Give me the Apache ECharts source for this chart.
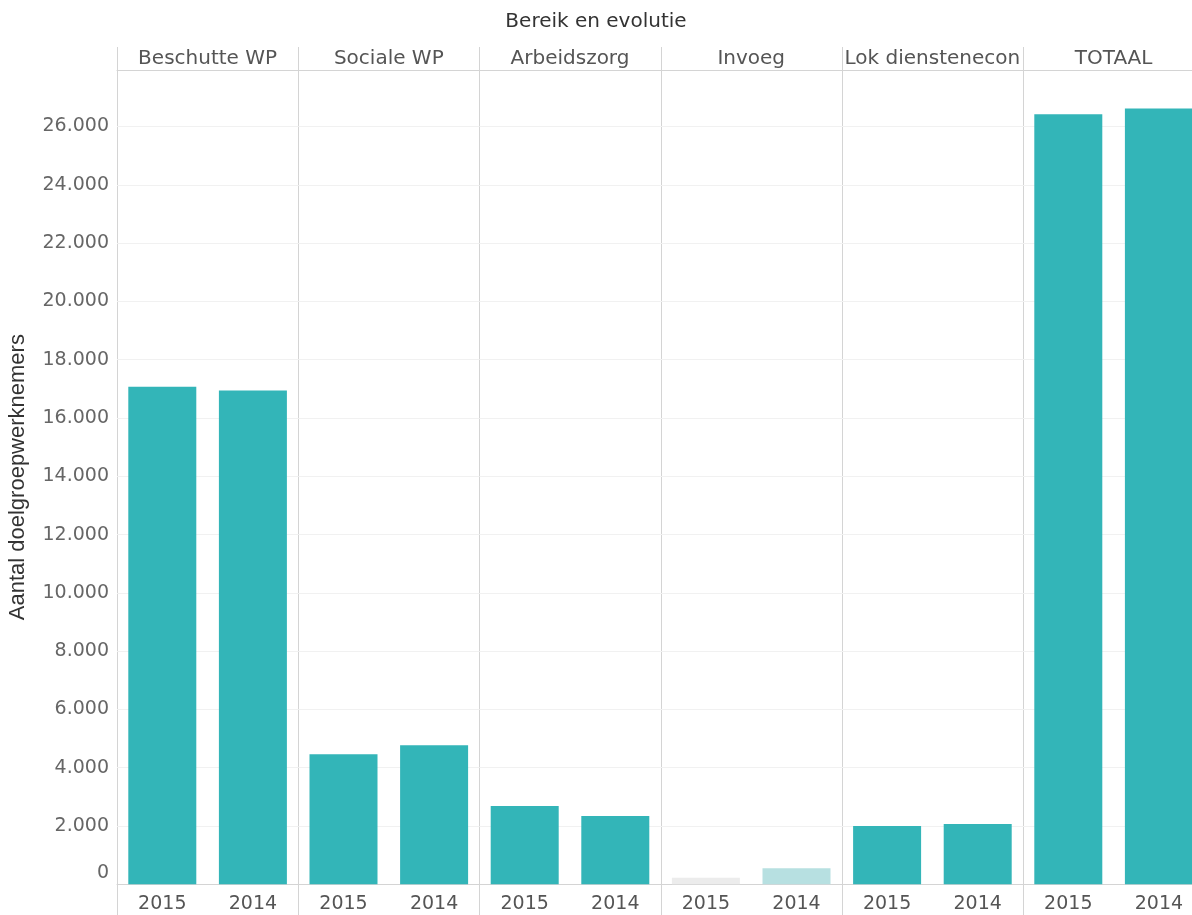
<!DOCTYPE html>
<html>
<head>
<meta charset="utf-8">
<script src="https://cdn.jsdelivr.net/npm/echarts@6/dist/echarts.min.js"></script>
<style>
html,body{margin:0;padding:0;background:#fff;}
#chart{width:1192px;height:915px;}
</style>
</head>
<body>
<div id="chart"></div>
<script>
// ---- data ----
const categories = ['Beschutte WP', 'Sociale WP', 'Arbeidszorg', 'Invoeg', 'Lok dienstenecon', 'TOTAAL'];
const years = ['2015', '2014'];
const values2015 = [17070, 4460, 2686, 226, 2000, 26425];
const values2014 = [16947, 4768, 2343, 548, 2069, 26621];
const yMin = 0;
const yMax = 27940;
const yInterval = 2000;
const chartTitle = 'Bereik en evolutie';
const yAxisTitle = 'Aantal doelgroepwerknemers';

// ---- layout / style ----
const plotLeft = 117, panelW = 181.2, plotTop = 70, plotH = 814.3;
const FONT = 'DejaVu Sans';
const barColor = '#33b5b8';
const fadedColors = { 'Invoeg': ['#ececec', '#b7e0e1'] };
const lineColor = '#d4d4d4';

function fmt(v) {
  return String(Math.round(v)).replace(/\B(?=(\d{3})+(?!\d))/g, '.');
}

const grids = [], xAxes = [], yAxes = [], series = [], graphics = [];
categories.forEach((cat, i) => {
  const left = plotLeft + i * panelW;
  grids.push({ left: left, top: plotTop, width: panelW, height: plotH, containLabel: false, outerBoundsMode: 'none' });
  // bottom year axis
  xAxes.push({
    type: 'category', gridIndex: i, data: years, position: 'bottom',
    axisLine: { show: true, lineStyle: { color: lineColor } },
    axisTick: { show: false },
    axisLabel: { fontFamily: FONT, fontSize: 19, color: '#555', margin: 10 },
    splitLine: { show: false }
  });
  // top header axis
  xAxes.push({
    type: 'category', gridIndex: i, data: [cat], position: 'top',
    axisLine: { show: true, lineStyle: { color: lineColor } },
    axisTick: { show: false },
    axisLabel: { fontFamily: FONT, fontSize: 20, color: '#555', margin: 1 },
    splitLine: { show: false }
  });
  yAxes.push({
    type: 'value', gridIndex: i, min: yMin, max: yMax, interval: yInterval,
    name: i === 0 ? yAxisTitle : '',
    nameLocation: 'middle', nameRotate: 90, nameGap: 88,
    nameTextStyle: { fontFamily: 'Liberation Sans', fontSize: 22, color: '#333' },
    axisLine: { show: false }, axisTick: { show: false },
    axisLabel: {
      show: i === 0, fontFamily: FONT, fontSize: 19, color: '#666', margin: 8,
      formatter: v => (v % yInterval !== 0 ? '' : (v === 0 ? '{zero|0}' : fmt(v))),
      rich: { zero: { fontFamily: FONT, fontSize: 19, color: '#666', padding: [0, 0, 22, 0] } }
    },
    splitLine: { show: true, lineStyle: { color: '#f1f1f1', width: 1 } }
  });
  const faded = fadedColors[cat];
  series.push({
    type: 'bar', xAxisIndex: i * 2, yAxisIndex: i,
    barWidth: 68,
    data: [values2015[i], values2014[i]].map((v, j) => ({
      value: v,
      itemStyle: { color: faded ? faded[j] : barColor }
    })),
    silent: true
  });
  graphics.push({
    type: 'line', silent: true,
    shape: { x1: Math.round(left) + 0.5, y1: 47, x2: Math.round(left) + 0.5, y2: 915 },
    style: { stroke: lineColor, lineWidth: 1 }
  });
});

const chart = echarts.init(document.getElementById('chart'), null, { renderer: 'canvas' });
chart.setOption({
  backgroundColor: '#fff',
  animation: false,
  title: {
    text: chartTitle, left: 'center', top: 7,
    textStyle: { fontFamily: FONT, fontSize: 20, fontWeight: 'normal', color: '#333' }
  },
  grid: grids,
  xAxis: xAxes,
  yAxis: yAxes,
  series: series,
  graphic: graphics
});
</script>
</body>
</html>
